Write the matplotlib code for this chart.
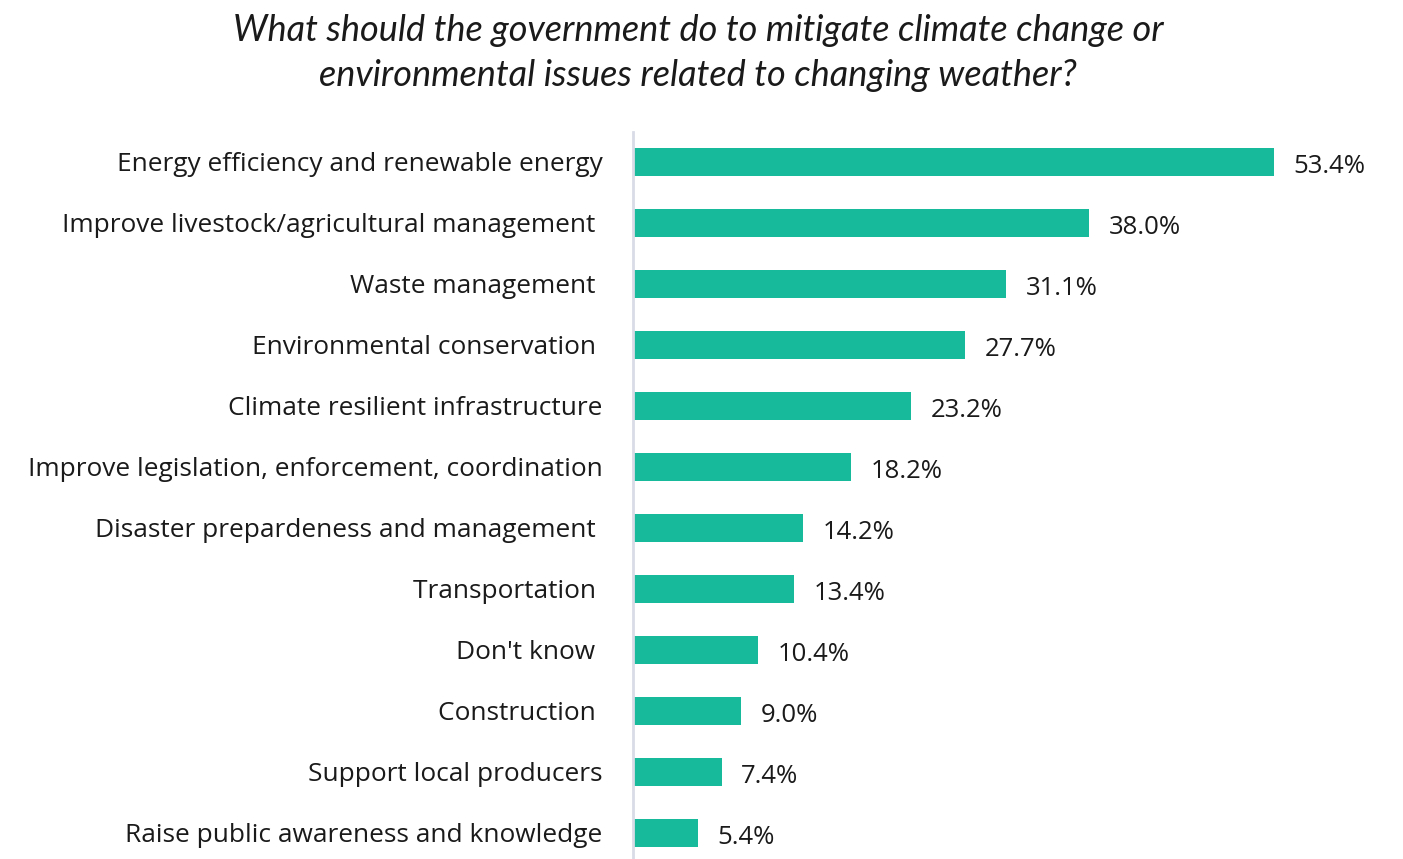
import matplotlib.pyplot as plt

categories = [
    "Energy efficiency and renewable energy",
    "Improve livestock/agricultural management ",
    "Waste management ",
    "Environmental conservation ",
    "Climate resilient infrastructure",
    "Improve legislation, enforcement, coordination",
    "Disaster prepardeness and management ",
    "Transportation ",
    "Don't know ",
    "Construction ",
    "Support local producers",
    "Raise public awareness and knowledge",
]
values = [53.4, 38.0, 31.1, 27.7, 23.2, 18.2, 14.2, 13.4, 10.4, 9.0, 7.4, 5.4]

title = ("What should the government do to mitigate climate change or\n"
         "environmental issues related to changing weather?")

W, H = 1403, 859
fig = plt.figure(figsize=(W / 100, H / 100), dpi=100)
ax = fig.add_axes([633 / W, 0, 1 - 633 / W, (H - 132) / H])

ypos = list(range(len(values)))
ax.barh(ypos, values, height=0.46, color="#17bb9c")
ax.set_xlim(0, 770 / 12.0)
ax.set_ylim(11.43, -0.49)

for y, v in zip(ypos, values):
    ax.annotate(f"{v:.1f}%", (v, y), xytext=(14, -1), textcoords="offset points",
                va="center_baseline", ha="left", fontsize=18.5, family="Open Sans",
                color="#1a1a1a")

ax.set_yticks(ypos)
ax.set_yticklabels(categories, fontsize=18.9, family="Open Sans", color="#1a1a1a")
ax.tick_params(axis="y", length=0, pad=22)
ax.set_xticks([])
for s in ["top", "right", "bottom"]:
    ax.spines[s].set_visible(False)
ax.spines["left"].set_color("#d9dce6")
ax.spines["left"].set_linewidth(2)

fig.text(698 / W, 1 - 53 / H, title, ha="center", va="center", fontsize=26,
         family="Lato", style="italic", color="#1a1a1a", linespacing=1.41)

fig.savefig("out.png", dpi=100)
